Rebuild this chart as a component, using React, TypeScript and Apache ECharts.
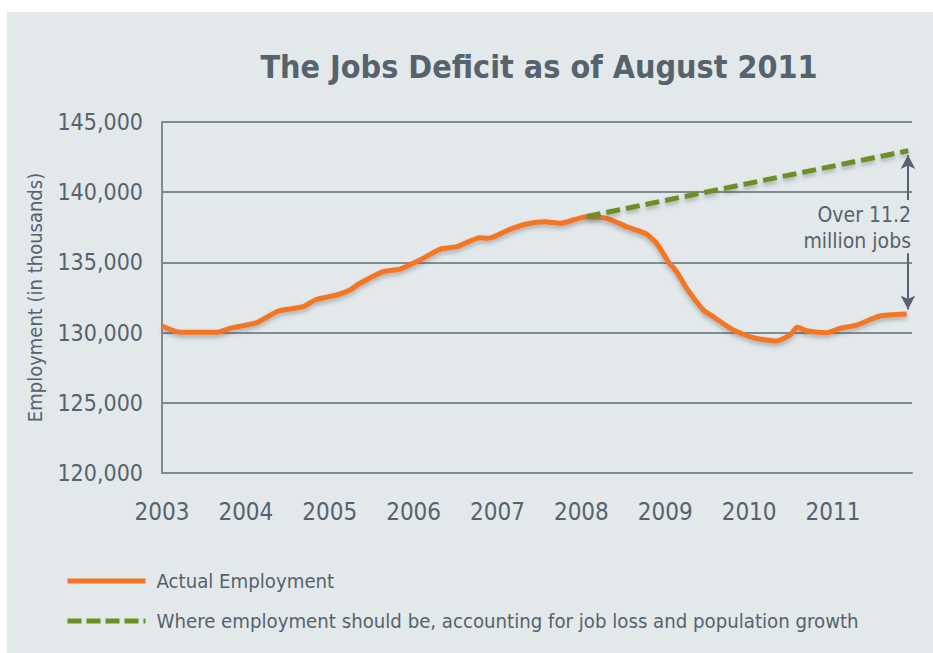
import React, { useEffect, useRef } from 'react';
import * as echarts from 'echarts';

const titleText = 'The Jobs Deficit as of August 2011';
const yAxisName = 'Employment (in thousands)';
const seriesNames = ['Actual Employment', 'Where employment should be, accounting for job loss and population growth'];

const xMin = 2003;
const xMax = 2011.942;
const yMin = 120000;
const yMax = 145000;
const yStep = 5000;

const actualX = [2003.0, 2003.215, 2003.652, 2003.811, 2004.129, 2004.387, 2004.685, 2004.824, 2005.083, 2005.241, 2005.361, 2005.638, 2005.838, 2006.076, 2006.314, 2006.514, 2006.791, 2006.89, 2007.149, 2007.348, 2007.566, 2007.745, 2008.064, 2008.302, 2008.54, 2008.759, 2008.898, 2009.036, 2009.136, 2009.256, 2009.454, 2009.573, 2009.811, 2010.05, 2010.329, 2010.487, 2010.574, 2010.686, 2010.925, 2011.083, 2011.283, 2011.56, 2011.879];
const actualY = [130470, 130020, 130020, 130305, 130704, 131538, 131844, 132321, 132677, 133033, 133511, 134337, 134529, 135170, 135932, 136118, 136759, 136716, 137357, 137735, 137898, 137784, 138255, 138141, 137542, 137072, 136360, 135049, 134337, 133154, 131609, 131131, 130184, 129636, 129401, 129828, 130376, 130134, 129992, 130305, 130540, 131181, 131324];

const trendX = [2008.064, 2011.898];
const trendY = [138270, 142956];

const arrowX = 2011.894;
const upperArrow = [139450, 142650];
const lowerArrow = [135650, 131650];
const annotationLines = ['Over 11.2', 'million jobs'];
const annotationY = 137480;

const FONT = "'DejaVu Sans Condensed', 'DejaVu Sans', sans-serif";
const TEXT = '#56636c';
const GRIDC = '#7f8b93';
const ORANGE = '#f47422';
const GREEN = '#6c8e23';

export default function App() {
  const ref = useRef<HTMLDivElement>(null);
  useEffect(() => {
    document.body.style.margin = '0';
    if (!ref.current) return;
    const chart = echarts.init(ref.current, null, { renderer: 'svg' });
    const actual = actualX.map((x, i) => [x, actualY[i]]);
    const trend = trendX.map((x, i) => [x, trendY[i]]);
    const shadow = { shadowColor: 'rgba(60,70,80,0.35)', shadowBlur: 4, shadowOffsetY: 3 };
    const option: any = {
      animation: false,
      backgroundColor: '#e3e8eb',
      textStyle: { fontFamily: FONT },
      title: {
        text: titleText,
        left: 532,
        top: 39,
        padding: 0,
        textAlign: 'center',
        textStyle: { fontFamily: FONT, fontSize: 32, fontWeight: 'bold', color: TEXT },
      },
      grid: { left: 155, top: 110, width: 750, height: 351, containLabel: false, outerBoundsMode: 'none' },
      legend: {
        orient: 'vertical',
        left: 58,
        top: 559,
        padding: 0,
        itemWidth: 78,
        itemHeight: 14,
        itemGap: 20,
        selectedMode: false,
        itemStyle: { opacity: 0 },
        textStyle: { fontFamily: FONT, fontSize: 20.2, lineHeight: 20, color: TEXT, padding: [0, 0, 0, 6] },
        data: [
          { name: seriesNames[0], lineStyle: { width: 5, color: ORANGE, type: 'solid' } },
          { name: seriesNames[1], lineStyle: { width: 5, color: GREEN, type: [14, 5] } },
        ],
      },
      xAxis: {
        type: 'value',
        min: xMin,
        max: xMax,
        interval: 1,
        axisLine: { show: true, lineStyle: { color: GRIDC, width: 2 } },
        axisTick: { show: false },
        splitLine: { show: false },
        axisLabel: {
          margin: 27,
          fontFamily: FONT,
          fontSize: 24,
          color: TEXT,
          showMaxLabel: false,
          formatter: (v: number) => (Number.isInteger(v) ? String(v) : ''),
        },
      },
      yAxis: {
        type: 'value',
        min: yMin,
        max: yMax,
        interval: yStep,
        name: yAxisName,
        nameLocation: 'middle',
        nameGap: 117,
        nameTextStyle: { fontFamily: FONT, fontSize: 20, color: TEXT },
        axisLine: { show: true, lineStyle: { color: GRIDC, width: 2 } },
        axisTick: { show: false },
        splitLine: { show: true, lineStyle: { color: GRIDC, width: 2 } },
        axisLabel: {
          margin: 19,
          fontFamily: FONT,
          fontSize: 23,
          color: TEXT,
          formatter: (v: number) => v.toLocaleString('en-US'),
        },
      },
      series: [
        {
          name: seriesNames[0],
          type: 'line',
          data: actual,
          showSymbol: false,
          symbol: 'none',
          smooth: 0.2,
          z: 3,
          itemStyle: { color: ORANGE },
          lineStyle: { color: ORANGE, width: 5, ...shadow },
        },
        {
          name: seriesNames[1],
          type: 'line',
          data: trend,
          showSymbol: false,
          symbol: 'none',
          z: 4,
          itemStyle: { color: GREEN },
          lineStyle: { color: GREEN, width: 5, type: [14, 6], ...shadow },
          markLine: {
            silent: true,
            symbol: ['none', 'arrow'],
            symbolSize: [11, 14],
            label: { show: false },
            lineStyle: { color: TEXT, width: 2, type: 'solid', shadowBlur: 0, shadowOffsetY: 0 },
            data: [
              [{ coord: [arrowX, upperArrow[0]] }, { coord: [arrowX, upperArrow[1]] }],
              [{ coord: [arrowX, lowerArrow[0]] }, { coord: [arrowX, lowerArrow[1]] }],
            ],
          },
        },
      ],
    };
    chart.setOption(option);
    const p = chart.convertToPixel({ gridIndex: 0 }, [xMax, annotationY]) as number[];
    chart.setOption({
      graphic: [
        {
          type: 'text',
          x: p[0] - 1,
          y: p[1],
          silent: true,
          style: {
            text: annotationLines.join('\n'),
            align: 'right',
            verticalAlign: 'middle',
            fontFamily: FONT,
            fontSize: 21,
            lineHeight: 26,
            fill: TEXT,
          },
        },
      ],
    });
    return () => chart.dispose();
  }, []);
  return (
    <div style={{ width: 933, height: 653, background: '#ffffff', position: 'relative' }}>
      <div ref={ref} style={{ position: 'absolute', left: 7, top: 12, width: 926, height: 641 }} />
    </div>
  );
}
